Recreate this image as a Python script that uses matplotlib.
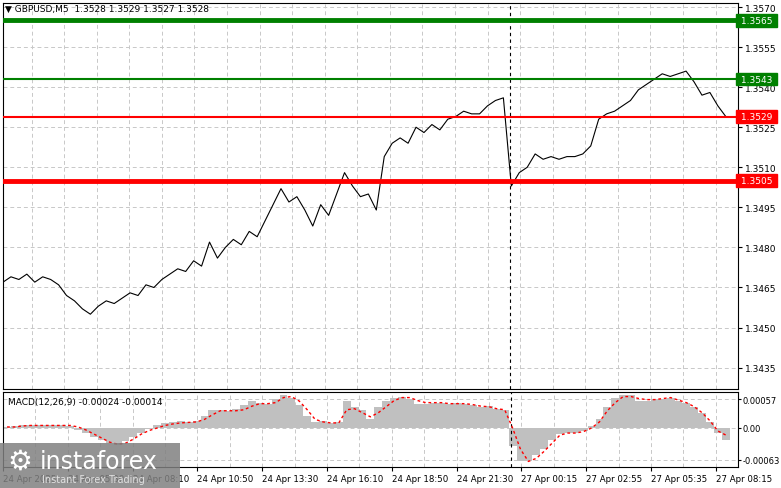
import matplotlib
matplotlib.use("Agg")
import matplotlib.pyplot as plt
import numpy as np
from matplotlib.patches import Rectangle

# ----- data ----------------------------------------------------------------
price = [
    1.3467, 1.3469, 1.3468, 1.3470, 1.3467, 1.3469, 1.3468, 1.3466,
    1.3462, 1.3460, 1.3457, 1.3455, 1.3458, 1.3460, 1.3459, 1.3461,
    1.3463, 1.3462, 1.3466, 1.3465, 1.3468, 1.3470, 1.3472, 1.3471,
    1.3475, 1.3473, 1.3482, 1.3476, 1.3480, 1.3483, 1.3481, 1.3486,
    1.3484, 1.3490, 1.3496, 1.3502, 1.3497, 1.3499, 1.3494, 1.3488,
    1.3496, 1.3492, 1.3500, 1.3508, 1.3503, 1.3499, 1.3500, 1.3494,
    1.3514, 1.3519, 1.3521, 1.3519, 1.3525, 1.3523, 1.3526, 1.3524,
    1.3528, 1.3529, 1.3531, 1.3530, 1.3530, 1.3533, 1.3535, 1.3536,
    1.3503, 1.3508, 1.3510, 1.3515, 1.3513, 1.3514, 1.3513, 1.3514,
    1.3514, 1.3515, 1.3518, 1.3528, 1.3530, 1.3531, 1.3533, 1.3535,
    1.3539, 1.3541, 1.3543, 1.3545, 1.3544, 1.3545, 1.3546, 1.3542,
    1.3537, 1.3538, 1.3533, 1.3529,
]
macd_hist = [  # units of 1e-5
    2, 4, 6, 6, 6, 5, 5, 6,
    4, -4, -10, -17, -24, -30, -34, -26,
    -18, -10, -2, 5, 10, 12, 14, 12,
    14, 24, 36, 36, 34, 38, 46, 54,
    50, 48, 58, 66, 60, 46, 24, 12,
    14, 10, 12, 54, 42, 36, 18, 42,
    54, 60, 62, 58, 48, 48, 50, 50,
    48, 50, 48, 46, 42, 43, 38, 36,
    -36, -66, -66, -54, -42, -24, -12, -10,
    -10, -6, 4, 18, 42, 60, 66, 66,
    54, 54, 58, 58, 60, 54, 50, 42,
    30, 12, -10, -24,
]
macd_signal = [
    2, 2, 4, 5, 5, 5, 5, 5,
    5, 2, -4, -12, -20, -28, -32, -30,
    -22, -12, -5, 0, 5, 8, 10, 11,
    12, 17, 26, 34, 34, 34, 36, 43,
    48, 48, 50, 60, 62, 53, 36, 17,
    12, 10, 10, 36, 38, 30, 22, 30,
    42, 54, 60, 60, 54, 50, 50, 50,
    48, 48, 48, 46, 43, 42, 38, 36,
    0, -42, -66, -60, -46, -30, -14, -10,
    -10, -7, 0, 12, 34, 50, 62, 62,
    58, 56, 56, 58, 60, 55, 50, 42,
    30, 14, -6, -14,
]
tick_labels = ["24 Apr 2025", "24 Apr 05:30", "24 Apr 08:10", "24 Apr 10:50",
               "24 Apr 13:30", "24 Apr 16:10", "24 Apr 18:50", "24 Apr 21:30",
               "27 Apr 00:15", "27 Apr 02:55", "27 Apr 05:35", "27 Apr 08:15"]
price_ticks = [1.3435, 1.3450, 1.3465, 1.3480, 1.3495, 1.3510, 1.3525,
               1.3540, 1.3555, 1.3570]
levels = [(1.3565, "#008000", 3.5), (1.3543, "#008000", 1.5),
          (1.3529, "#ff0000", 1.5), (1.3505, "#ff0000", 3.5)]
session_break = 249  # bar index of the weekend gap

W, H = 781, 489
fig = plt.figure(figsize=(W / 100, H / 100), dpi=100)
ax = fig.add_axes([3 / W, 1 - 390 / H, 735 / W, 386 / H])
axm = fig.add_axes([3 / W, 1 - 468 / H, 735 / W, 75 / H])

n = len(price)
xs = np.linspace(0, 355, n)
grid_kw = dict(color="#c8c8c8", linestyle=(0, (4, 3)), linewidth=0.7)
ticks_x = [-2 + 32 * k for k in range(len(tick_labels))]
grid_x = [-2 + 16 * k for k in range(1, 23)]

# main price panel
ax.plot(xs, price, color="black", linewidth=0.8, zorder=3)
for lvl, col, lw in levels:
    ax.axhline(lvl, color=col, linewidth=lw, zorder=4)
ax.axvline(session_break, color="black", linestyle=(0, (3, 3)), linewidth=0.8)
ax.set_xlim(0, 361)
ax.set_ylim(1.3427, 1.35715)
ax.set_xticks(grid_x)
ax.set_xticklabels([])
ax.set_yticks(price_ticks)
ax.grid(True, **grid_kw)
ax.yaxis.tick_right()
ax.tick_params(axis="y", labelsize=6.5, length=3, pad=2)
ax.tick_params(axis="x", length=0)
ax.set_yticklabels([f"{v:.4f}" for v in price_ticks])
for lvl, col, lw in levels:
    ax.text(1.0, lvl, f" {lvl:.4f} ", transform=ax.get_yaxis_transform(),
            ha="left", va="center", fontsize=6.5, color="white", clip_on=False,
            bbox=dict(boxstyle="square,pad=0.2", fc=col, ec=col), zorder=6)
ax.text(0.003, 0.997, "\u25bc GBPUSD,M5  1.3528 1.3529 1.3527 1.3528",
        transform=ax.transAxes, ha="left", va="top", fontsize=6.5)

# MACD panel
axm.bar(xs, np.array(macd_hist) * 1e-5, width=xs[1] - xs[0], color="#c0c0c0", zorder=2)
axm.plot(xs, np.array(macd_signal) * 1e-5, color="#ff0000", linestyle=(0, (2, 2)),
         linewidth=1, zorder=3)
axm.axvline(session_break, color="black", linestyle=(0, (3, 3)), linewidth=0.8)
axm.set_xlim(0, 361)
axm.set_ylim(-0.00077, 0.00071)
axm.set_yticks([-0.00063, 0.0, 0.00057])
axm.set_yticklabels(["-0.00063", "0.00", "0.00057"])
axm.yaxis.tick_right()
axm.set_xticks(grid_x, minor=True)
axm.set_xticks(ticks_x)
axm.set_xticklabels(tick_labels, ha="left")
axm.grid(True, which="both", **grid_kw)
axm.tick_params(axis="x", labelsize=6.2, length=3, pad=2)
axm.tick_params(axis="y", labelsize=6, length=2, pad=1)
axm.tick_params(axis="x", which="minor", length=0)
axm.text(0.007, 0.93, "MACD(12,26,9) -0.00024 -0.00014", transform=axm.transAxes,
         ha="left", va="top", fontsize=6.5)

# watermark
fig.patches.append(Rectangle((0, 0), 180 / W, 45 / H, transform=fig.transFigure,
                             facecolor="#808080", alpha=0.85, zorder=10))
fig.text(40 / W, 27 / H, "instaforex", color="white", fontsize=17, va="center",
         ha="left", zorder=11)
fig.text(42 / W, 9 / H, "Instant Forex Trading", color="#e0e0e0", fontsize=7,
         va="center", ha="left", zorder=11)
fig.text(20 / W, 27 / H, "\u2699", color="white", fontsize=20, va="center",
         ha="center", zorder=11)

fig.savefig("out.png", dpi=100)
